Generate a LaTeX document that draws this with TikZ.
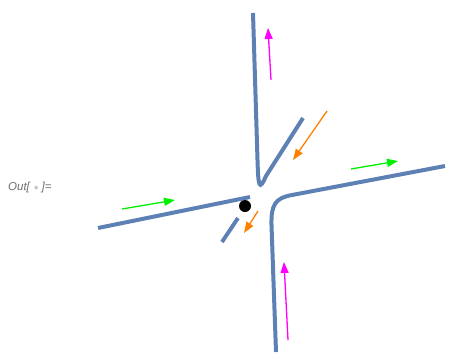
\documentclass[tikz,border=0pt]{standalone}
\usepackage{fontspec}
\setmainfont{Liberation Sans}
\usetikzlibrary{arrows.meta}
\definecolor{curveblue}{RGB}{94, 129, 181}
\definecolor{flowmagenta}{RGB}{255, 0, 255}
\definecolor{floworange}{RGB}{255, 128, 0}
\definecolor{flowgreen}{RGB}{0, 240, 0}
\definecolor{labelgray}{RGB}{110, 110, 110}
\definecolor{dotgray}{RGB}{200, 200, 200}

\begin{document}
\begin{tikzpicture}[x=1pt, y=-1pt]
    \tikzstyle{branch} = [line width=4pt, color=curveblue]
    \tikzstyle{flow} = [-{Triangle[length=11pt, width=8pt]}, line width=1.3pt]

    \useasboundingbox (0,0) rectangle (449,354);

    % output label
    \node[anchor=west, inner sep=0pt, font=\fontsize{11.5}{13}\selectfont, labelgray] (out) at (8,188)
        {\textit{Out[}\hspace{3pt}{\color{dotgray}\scalebox{0.8}{$\bullet$}}\hspace{3pt}\textit{]=}};

    % branches
    \draw[branch] (253,13) -- (257.5,160) .. controls (258.3,186) and (259,192) .. (266,176) -- (303,118);
    \draw[branch] (98,228) -- (250,197);
    \draw[branch] (222,242) -- (238,218);
    \draw[branch] (445,166) -- (292,195) .. controls (275,198) and (271,205) .. (271.5,225) -- (276,352);

    \fill[black] (245,206) circle (6pt);

    % flow directions
    \coordinate (mt1) at (271,80);   \coordinate (mh1) at (268,28);
    \coordinate (mt2) at (288,340);  \coordinate (mh2) at (284,262);
    \coordinate (ot1) at (327,111);  \coordinate (oh1) at (293,160);
    \coordinate (ot2) at (258,211);  \coordinate (oh2) at (244,233);
    \coordinate (gt1) at (122,209);  \coordinate (gh1) at (175,200);
    \coordinate (gt2) at (351,169);  \coordinate (gh2) at (398,161);

    \draw[flow, flowmagenta] (mt1) -- (mh1);
    \draw[flow, flowmagenta] (mt2) -- (mh2);
    \draw[flow, floworange]  (ot1) -- (oh1);
    \draw[flow, floworange]  (ot2) -- (oh2);
    \draw[flow, flowgreen]   (gt1) -- (gh1);
    \draw[flow, flowgreen]   (gt2) -- (gh2);
\end{tikzpicture}
\end{document}
